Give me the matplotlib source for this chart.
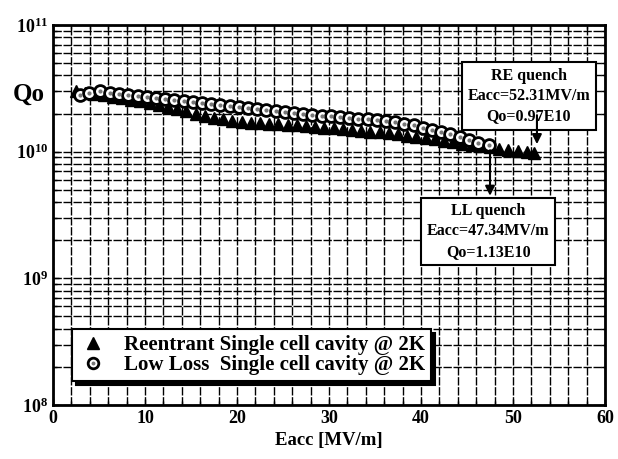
import matplotlib
matplotlib.use("Agg")
import matplotlib.pyplot as plt
from matplotlib.legend_handler import HandlerTuple

# ---- Reentrant single cell cavity @ 2K (Eacc in MV/m, Qo in units of 1e10) ----
re_eacc = [2.5, 3.5, 4.5, 5.5, 6.5, 7.5, 8.5, 9.5, 10.5, 11.5, 12.5, 13.5, 14.5,
           15.5, 16.5, 17.5, 18.5, 19.5, 20.5, 21.5, 22.5, 23.5, 24.5, 25.5, 26.5,
           27.5, 28.5, 29.5, 30.5, 31.5, 32.5, 33.5, 34.5, 35.5, 36.5, 37.5, 38.5,
           39.5, 40.5, 41.5, 42.5, 43.5, 44.5, 45.5, 46.5, 47.5, 48.5, 49.5, 50.5,
           51.5, 52.31]
re_q = [3.00, 2.88, 2.85, 2.80, 2.72, 2.65, 2.58, 2.50, 2.42, 2.33, 2.25, 2.16, 2.08,
        2.00, 1.93, 1.86, 1.80, 1.74, 1.70, 1.68, 1.67, 1.66, 1.65, 1.63, 1.61,
        1.59, 1.57, 1.55, 1.53, 1.51, 1.49, 1.46, 1.44, 1.42, 1.40, 1.37, 1.34,
        1.31, 1.28, 1.25, 1.22, 1.19, 1.16, 1.13, 1.10, 1.08, 1.05, 1.03, 1.01,
        0.99, 0.97]

# ---- Low loss single cell cavity @ 2K ----
ll_eacc = [2.9, 3.9, 5.1, 6.2, 7.2, 8.2, 9.2, 10.2, 11.2, 12.2, 13.2, 14.2, 15.2,
           16.2, 17.2, 18.2, 19.2, 20.2, 21.2, 22.2, 23.2, 24.2, 25.2, 26.2, 27.2,
           28.2, 29.2, 30.2, 31.2, 32.2, 33.2, 34.2, 35.2, 36.2, 37.2, 38.2, 39.2,
           40.2, 41.2, 42.2, 43.2, 44.2, 45.2, 46.2, 47.34]
ll_q = [2.80, 2.92, 3.03, 2.89, 2.84, 2.80, 2.77, 2.72, 2.67, 2.60, 2.56, 2.50, 2.46,
        2.42, 2.38, 2.33, 2.29, 2.25, 2.20, 2.16, 2.13, 2.10, 2.05, 2.02, 1.98,
        1.95, 1.92, 1.90, 1.88, 1.85, 1.82, 1.80, 1.77, 1.74, 1.71, 1.66, 1.61,
        1.55, 1.49, 1.43, 1.37, 1.30, 1.24, 1.18, 1.13]

SERIF = ["Liberation Serif", "DejaVu Serif"]
plt.rcParams["font.family"] = SERIF
plt.rcParams["font.weight"] = "bold"
plt.rcParams["axes.labelweight"] = "bold"
plt.rcParams["mathtext.fontset"] = "custom"
plt.rcParams["mathtext.rm"] = "Liberation Serif:bold"
plt.rcParams["mathtext.it"] = "Liberation Serif:bold"
plt.rcParams["mathtext.bf"] = "Liberation Serif:bold"

fig = plt.figure(figsize=(6.18, 4.59), dpi=100)
ax = fig.add_axes([0.0858, 0.1176, 0.8932, 0.8279])

ax.set_yscale("log")
ax.set_xlim(0, 60)
ax.set_ylim(1e8, 1e11)

# dense dashed grid: every 2 MV/m and every log minor step
ax.set_xticks(range(0, 61, 10))
ax.set_xticks(range(0, 61, 2), minor=True)
ax.grid(True, which="both", axis="both", color="black",
        linestyle=(0, (6, 1.2)), linewidth=1.0)
ax.tick_params(which="both", direction="in", top=True, right=True,
               labelsize=13, length=4, width=1)
ax.tick_params(which="minor", length=3)
for sp in ax.spines.values():
    sp.set_linewidth(2)

re_vals = [q * 1e10 for q in re_q]
ll_vals = [q * 1e10 for q in ll_q]

h_re, = ax.plot(re_eacc, re_vals, linestyle="none", marker="^", markersize=9,
                color="black", zorder=3)
h_ll, = ax.plot(ll_eacc, ll_vals, linestyle="none", marker="o", markersize=8.5,
                markerfacecolor="white", markeredgecolor="black",
                markeredgewidth=2.0, zorder=4)
h_dot, = ax.plot(ll_eacc, ll_vals, linestyle="none", marker="o", markersize=2,
                 color="#777777", zorder=5)

# quench annotations
box = dict(boxstyle="square,pad=0.35", facecolor="white", edgecolor="black",
           linewidth=1.5)
ax.text(51.7, 10 ** 10.44, "RE quench\nEacc=52.31MV/m\nQo=0.97E10",
        ha="center", va="center", fontsize=11.5, linespacing=1.35,
        bbox=box, zorder=6)
ax.annotate("", xy=(52.6, 1.09e10), xytext=(52.6, 10 ** 10.31),
            arrowprops=dict(arrowstyle="-|>", color="black", lw=1.5,
                            mutation_scale=14), zorder=6)

ax.text(47.3, 10 ** 9.37, "LL quench\nEacc=47.34MV/m\nQo=1.13E10",
        ha="center", va="center", fontsize=11.5, linespacing=1.35,
        bbox=box, zorder=6)
ax.annotate("", xy=(47.5, 10 ** 9.63), xytext=(47.5, 1.08e10),
            arrowprops=dict(arrowstyle="-|>", color="black", lw=1.5,
                            mutation_scale=14), zorder=6)

leg = ax.legend([h_re, (h_ll, h_dot)],
                ["Reentrant Single cell cavity @ 2K",
                 "Low Loss  Single cell cavity @ 2K"],
                handler_map={tuple: HandlerTuple(ndivide=1, pad=0)},
                loc="lower left", bbox_to_anchor=(0.015, 0.035),
                fontsize=15, frameon=True, fancybox=False,
                shadow={"color": "black", "alpha": 1.0, "ox": 3, "oy": -3},
                handlelength=1.4, handletextpad=0.8, borderpad=0.3,
                labelspacing=0.0, markerscale=0.9)
leg.get_frame().set_edgecolor("black")
leg.get_frame().set_linewidth(1.5)
leg.set_zorder(7)

fig.text(0.046, 0.795, "Qo", ha="center", va="center", fontsize=18)
ax.set_xlabel("Eacc [MV/m]", fontsize=13.5, labelpad=4)

fig.savefig("out.png", dpi=100)
